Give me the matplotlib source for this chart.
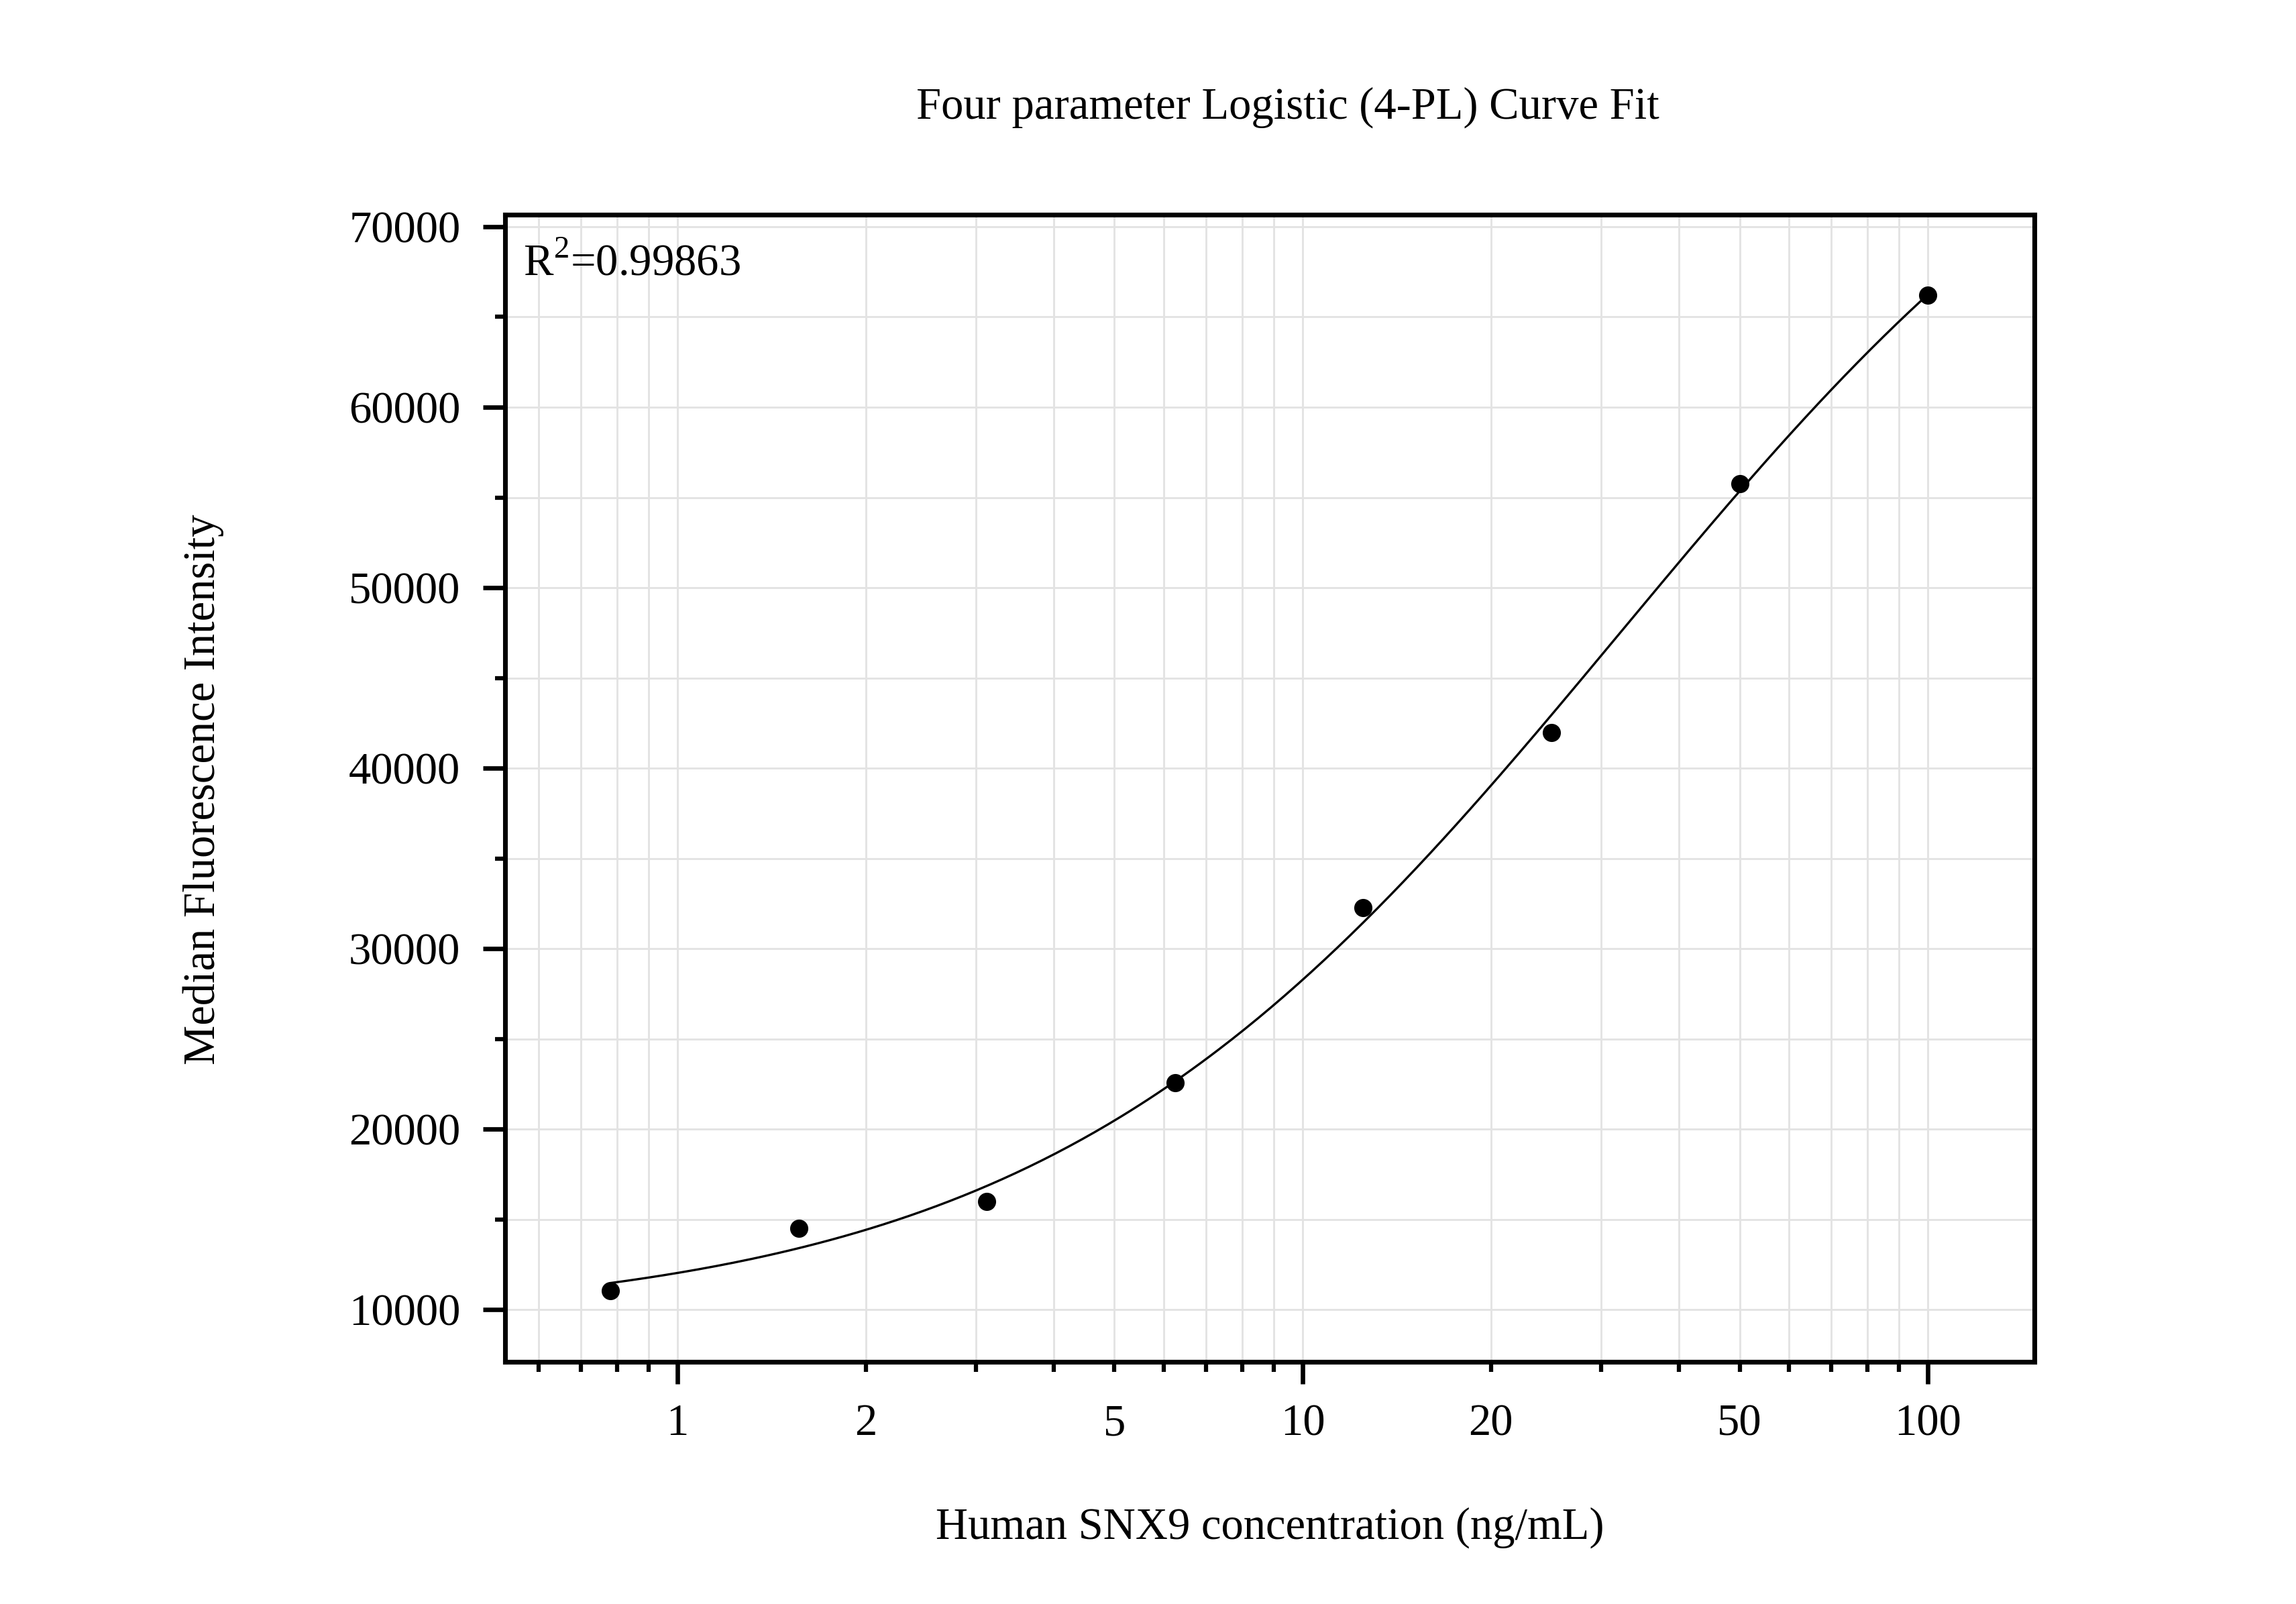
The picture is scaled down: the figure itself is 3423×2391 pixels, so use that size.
#!/usr/bin/env python3
"""4-PL standard curve for the human SNX9 assay: points + fitted curve."""

import matplotlib

matplotlib.use("Agg")
import matplotlib.pyplot as plt
import numpy as np
from matplotlib.ticker import FixedLocator, LogLocator, NullFormatter, FixedFormatter

# standard concentrations (ng/mL) and median fluorescence intensity
conc = [0.78125, 1.5625, 3.125, 6.25, 12.5, 25, 50, 100]
mfi = [11070, 14520, 16000, 22575, 32270, 41970, 55780, 66220]
r2_text = "R$^2$=0.99863"

xtick_major = [1, 10, 100]
xtick_labels = {1: "1", 2: "2", 5: "5", 10: "10", 20: "20", 50: "50", 100: "100"}
ytick_major = [10000, 20000, 30000, 40000, 50000, 60000, 70000]

plt.rcParams["font.family"] = ["Liberation Serif", "DejaVu Serif"]
plt.rcParams["mathtext.fontset"] = "custom"
plt.rcParams["mathtext.rm"] = "Liberation Serif"


def fit_4pl(x, y):
    # grid over slope b and log10 of c; a and d solved by linear least squares
    x = np.asarray(x, float)
    y = np.asarray(y, float)
    best = None
    for b in np.linspace(0.3, 4.0, 150):
        for lc in np.linspace(-1.0, 4.0, 300):
            g = 1.0 / (1.0 + (x / 10 ** lc) ** b)
            A = np.column_stack([g, 1.0 - g])
            coef, *_ = np.linalg.lstsq(A, y, rcond=None)
            sse = np.sum((A @ coef - y) ** 2)
            if best is None or sse < best[0]:
                best = (sse, coef[0], coef[1], b, 10 ** lc)
    _, a, d, b, c = best
    return lambda xx: d + (a - d) / (1.0 + (xx / c) ** b)


model = fit_4pl(conc, mfi)
xs = np.logspace(np.log10(conc[0]), np.log10(conc[-1]), 300)

fig = plt.figure(figsize=(3423 / 300, 2391 / 300), dpi=300)
ax = fig.add_axes([0.220, 0.151, 0.666, 0.715])

ax.plot(xs, model(xs), color="black", lw=0.8, zorder=3)
ax.plot(conc, mfi, "o", color="black", ms=5.5, zorder=4)

ax.set_xscale("log")
ax.set_xlim(0.53, 148)
ax.set_ylim(7120, 70650)

ax.xaxis.set_major_locator(FixedLocator(xtick_major))
ax.xaxis.set_minor_locator(LogLocator(base=10, subs=np.arange(2, 10)))
ax.xaxis.set_major_formatter(FixedFormatter([xtick_labels[v] for v in xtick_major]))
minor_locs = [v for v in ax.xaxis.get_minor_locator().tick_values(0.53, 148)]
ax.xaxis.set_minor_formatter(
    matplotlib.ticker.FuncFormatter(
        lambda v, p: xtick_labels.get(int(round(v)), "") if abs(v - round(v)) < 1e-6 else ""
    )
)

ax.yaxis.set_major_locator(FixedLocator(ytick_major))
ax.yaxis.set_minor_locator(FixedLocator(np.arange(5000, 75000, 10000)))
ax.yaxis.set_minor_formatter(NullFormatter())

for s in ax.spines.values():
    s.set_linewidth(1.7)

ax.tick_params(which="major", direction="out", length=8, width=1.6, labelsize=16, pad=7)
ax.tick_params(which="minor", direction="out", length=3.5, width=1.5, labelsize=16)
ax.tick_params(axis="x", which="minor", pad=7 + 8 - 3.5)
ax.tick_params(axis="y", which="major", pad=8)

ax.grid(which="both", color="#e3e3e3", lw=0.7, zorder=0)
ax.set_axisbelow(True)

ax.text(0.012, 0.975, r2_text, transform=ax.transAxes, ha="left", va="top", fontsize=16)

fig.text(0.561, 0.933, "Four parameter Logistic (4-PL) Curve Fit", ha="center", va="center",
         fontsize=16)
fig.text(0.553, 0.0476, "Human SNX9 concentration (ng/mL)", ha="center", va="center",
         fontsize=16)
fig.text(0.0885, 0.508, "Median Fluorescence Intensity", ha="center", va="center",
         rotation=90, fontsize=16)

fig.savefig("out.png", dpi=300)
